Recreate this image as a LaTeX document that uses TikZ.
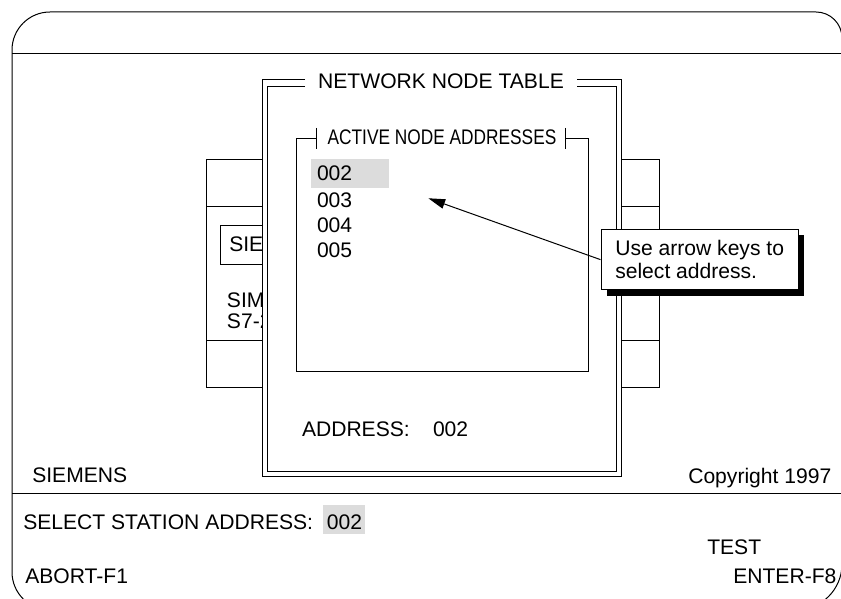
\documentclass[tikz,border=0pt]{standalone}
\usepackage{fontspec}
\setmainfont{Liberation Sans}
\newfontfamily\narrowfont[FakeStretch=0.82]{Liberation Sans}
\usetikzlibrary{arrows.meta}
\definecolor{selgray}{RGB}{220,220,220}
\tikzset{frameline/.style={line width=0.025cm},
         screentext/.style={inner sep=0pt}}
\begin{document}
\begin{tikzpicture}
                \useasboundingbox (0,0) rectangle (21.025000,14.950000);
                \clip (0,0) rectangle (21.025000,14.950000);
                {\fontsize{15}{16.6}\selectfont

                % Drawing screen frame
                \draw [frameline] (0.300000,13.700000) arc (180:90:0.950000) -- (20.400000,14.650000) arc (90:0:0.650000) -- (21.050000,0.850000) arc (0:-90:1.150000) -- (1.250000,-0.300000) arc (270:180:0.950000) -- cycle;%
                \draw [frameline] (0.300000,13.600000) -- (21.050000,13.600000);%
                \draw [frameline] (0.300000,2.625000) -- (21.050000,2.625000);%

                % Drawing station box behind the table
                \draw [frameline] (5.168000,10.968000) rectangle (16.483000,5.268000);%
                \draw [frameline] (5.168000,9.783000) -- (16.483000,9.783000);%
                \draw [frameline] (5.168000,6.450000) -- (16.483000,6.450000);%
                \draw [frameline] (5.500000,9.300000) rectangle (9.000000,8.325000);%
                \draw (5.725000,8.658000) node (stationname) [screentext, anchor=base west] {SIE};%
                \draw (5.667000,7.267000) node (stationtype) [screentext, anchor=base west] {SIM};%
                \draw (5.667000,6.742000) node (stationcpu) [screentext, anchor=base west] {S7-2};%

                % Drawing network node table window
                \fill [white] (6.568000,3.050000) rectangle (15.543000,12.968000);%
                \draw [frameline] (7.625000,12.968000) -- (6.568000,12.968000) -- (6.568000,3.050000) -- (15.543000,3.050000) -- (15.543000,12.968000) -- (14.425000,12.968000);%
                \draw [frameline] (7.625000,12.783000) -- (6.693000,12.783000) -- (6.693000,3.158000) -- (15.418000,3.158000) -- (15.418000,12.783000) -- (14.425000,12.783000);%
                \draw (11.025000,12.725000) node (tabletitle) [screentext, anchor=base] {NETWORK NODE TABLE};%

                % Drawing active node addresses box
                \draw [frameline] (7.918000,11.493000) -- (7.400000,11.493000) -- (7.400000,5.658000) -- (14.700000,5.658000) -- (14.700000,11.493000) -- (14.125000,11.493000);%
                \draw [frameline] (7.918000,11.750000) -- (7.918000,11.225000);%
                \draw [frameline] (14.125000,11.750000) -- (14.125000,11.225000);%
                \draw (11.050000,11.325000) node (activetitle) [screentext, anchor=base] {\narrowfont ACTIVE NODE ADDRESSES};%

                % Marking addresses
                \fill [selgray] (7.775000,10.968000) rectangle (9.725000,10.258000);%
                \draw (7.918000,10.425000) node (adrtwo) [screentext, anchor=base west] {002};%
                \draw (7.918000,9.768000) node (adrthree) [screentext, anchor=base west] {003};%
                \draw (7.918000,9.143000) node (adrfour) [screentext, anchor=base west] {004};%
                \draw (7.918000,8.518000) node (adrfive) [screentext, anchor=base west] {005};%
                \draw (7.543000,4.033000) node (adrlabel) [screentext, anchor=base west] {ADDRESS:};%
                \draw (10.818000,4.033000) node (adrvalue) [screentext, anchor=base west] {002};%

                % Marking screen texts
                \draw (0.800000,2.883000) node (maker) [screentext, anchor=base west] {SIEMENS};%
                \draw (17.200000,2.875000) node (copyright) [screentext, anchor=base west] {Copyright 1997};%
                \draw (0.575000,1.725000) node (selectlabel) [screentext, anchor=base west] {SELECT STATION ADDRESS:};%
                \fill [selgray] (8.075000,2.325000) rectangle (9.125000,1.600000);%
                \draw (8.167000,1.725000) node (selectvalue) [screentext, anchor=base west] {002};%
                \draw (17.675000,1.100000) node (testkey) [screentext, anchor=base west] {TEST};%
                \draw (0.625000,0.375000) node (abortkey) [screentext, anchor=base west] {ABORT-F1};%
                \draw (18.325000,0.375000) node (enterkey) [screentext, anchor=base west] {ENTER-F8};%

                % Drawing callout with shadow
                \fill [black] (15.165000,9.078000) rectangle (20.098000,7.560000);%
                \node (callout) [frameline, draw, fill=white, minimum width=4.933cm, minimum height=1.518cm, inner xsep=0.3cm, inner ysep=0cm, align=left] at (17.491500,8.459000) {Use arrow keys to\\select address.};%

                % Drawing arrow to selected address
                \coordinate (arrowtip) at (10.708000,9.993000);
                \draw [frameline, -{Triangle[length=0.42cm,width=0.24cm]}] (callout.west) -- (arrowtip);%
                }
\end{tikzpicture}
\end{document}
